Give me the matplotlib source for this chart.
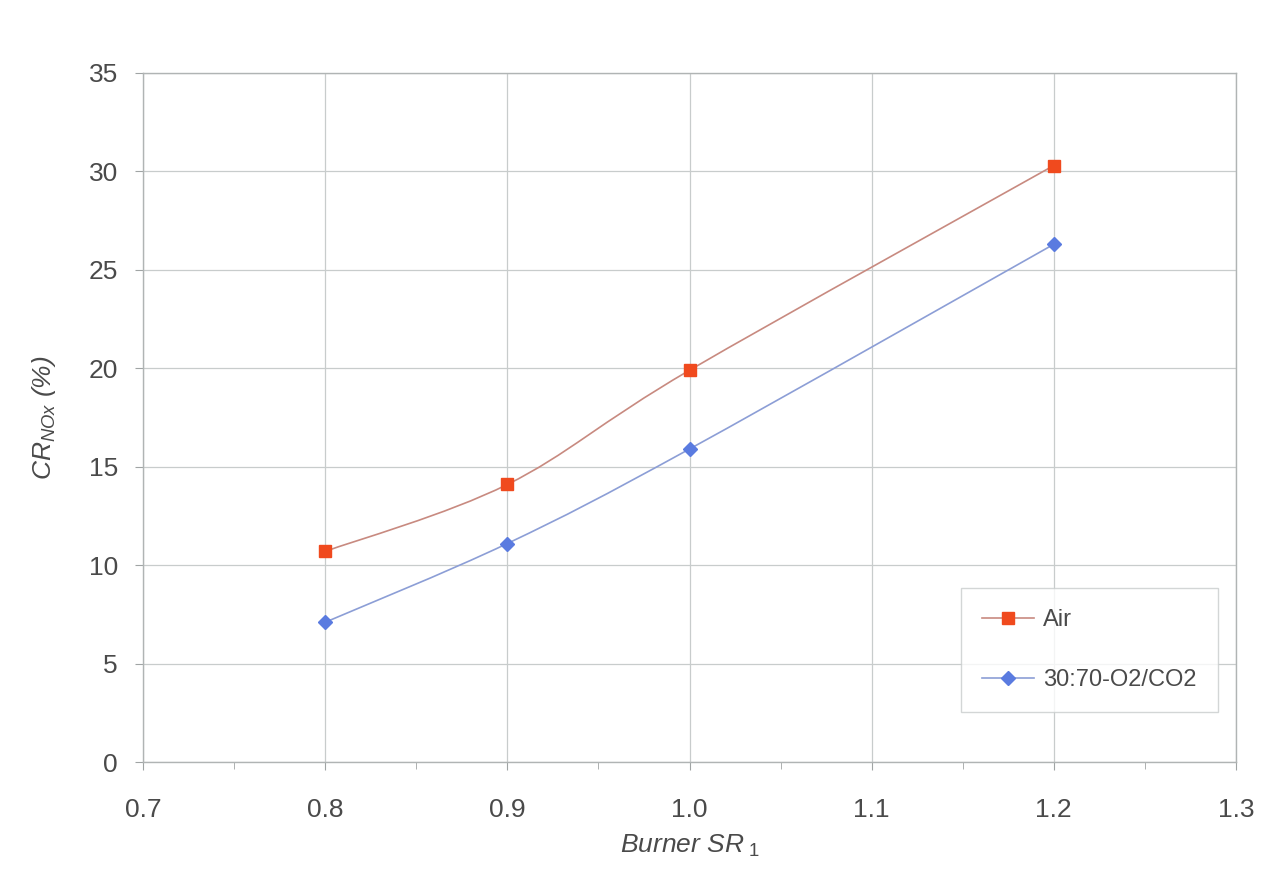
import matplotlib
matplotlib.use("Agg")
import matplotlib.pyplot as plt
from matplotlib.path import Path
from matplotlib.patches import PathPatch
from matplotlib.ticker import MultipleLocator

plt.rcParams["font.family"] = ["Liberation Sans", "DejaVu Sans"]
plt.rcParams["mathtext.fontset"] = "custom"
plt.rcParams["mathtext.it"] = "Liberation Sans:italic"
plt.rcParams["mathtext.rm"] = "Liberation Sans"
plt.rcParams["mathtext.default"] = "it"

# data
burner_sr = [0.8, 0.9, 1.0, 1.2]
cr_air = [10.7, 14.1, 19.9, 30.3]
cr_o2co2 = [7.1, 11.1, 15.9, 26.3]
labels = ["Air", "30:70-O2/CO2"]

text_col = "#4a4a4a"
grid_col = "#c8cccc"


def smooth_path(xs, ys):
    # excel-like smoothed line: catmull-rom as cubic bezier segments
    pts = list(zip(xs, ys))
    verts = [pts[0]]
    codes = [Path.MOVETO]
    n = len(pts)
    for i in range(n - 1):
        p0 = pts[i - 1] if i > 0 else pts[i]
        p1 = pts[i]
        p2 = pts[i + 1]
        p3 = pts[i + 2] if i + 2 < n else pts[i + 1]
        c1 = (p1[0] + (p2[0] - p0[0]) / 6, p1[1] + (p2[1] - p0[1]) / 6)
        c2 = (p2[0] - (p3[0] - p1[0]) / 6, p2[1] - (p3[1] - p1[1]) / 6)
        verts += [c1, c2, p2]
        codes += [Path.CURVE4] * 3
    return Path(verts, codes)


fig = plt.figure(figsize=(12.67, 8.73), dpi=100)
ax = fig.add_axes([0.1129, 0.1271, 0.8626, 0.7893])

ax.add_patch(PathPatch(smooth_path(burner_sr, cr_air), fill=False,
                       edgecolor="#c88a80", lw=1.2, zorder=3))
ax.add_patch(PathPatch(smooth_path(burner_sr, cr_o2co2), fill=False,
                       edgecolor="#8c9ed6", lw=1.2, zorder=3))
ax.plot(burner_sr, cr_air, ls="none", marker="s", ms=9, color="#f04a1e",
        zorder=4)
ax.plot(burner_sr, cr_o2co2, ls="none", marker="D", ms=7.5, color="#5a7be0",
        zorder=4)

# legend proxies
ax.plot([], [], color="#c88a80", lw=1.2, marker="s", ms=9, mfc="#f04a1e",
        mec="#f04a1e", label=labels[0])
ax.plot([], [], color="#8c9ed6", lw=1.2, marker="D", ms=7.5, mfc="#5a7be0",
        mec="#5a7be0", label=labels[1])

ax.set_xlim(0.7, 1.3)
ax.set_ylim(0, 35)
ax.xaxis.set_major_locator(MultipleLocator(0.1))
ax.xaxis.set_minor_locator(MultipleLocator(0.05))
ax.yaxis.set_major_locator(MultipleLocator(5))
ax.xaxis.set_major_formatter(plt.FuncFormatter(lambda v, p: f"{v:.1f}"))

ax.grid(True, which="major", color=grid_col, lw=0.9)
for s in ax.spines.values():
    s.set_color("#b0b4b4")
    s.set_linewidth(1.0)
ax.tick_params(axis="both", which="major", labelsize=19, colors=text_col,
               length=6, color="#a0a4a4")
ax.tick_params(axis="x", pad=20)
ax.tick_params(axis="y", pad=12)
ax.tick_params(axis="x", which="minor", length=5, color="#a0a4a4")

ax.set_xlabel("Burner SR$_{\\ 1}$", fontsize=19, fontstyle="italic",
              color=text_col, labelpad=8)
ax.set_ylabel("$CR_{NOx}$ (%)", fontsize=19, fontstyle="italic",
              color=text_col, labelpad=22)

leg = ax.legend(loc="lower right", bbox_to_anchor=(0.9835, 0.072),
                fontsize=17, frameon=True, fancybox=False,
                borderpad=0.9, labelspacing=1.6, handlelength=2.2,
                handletextpad=0.4, borderaxespad=0)
leg.get_frame().set_edgecolor("#c8cccc")
leg.get_frame().set_linewidth(1.0)
for t in leg.get_texts():
    t.set_color(text_col)

fig.savefig("out.png", dpi=100)
